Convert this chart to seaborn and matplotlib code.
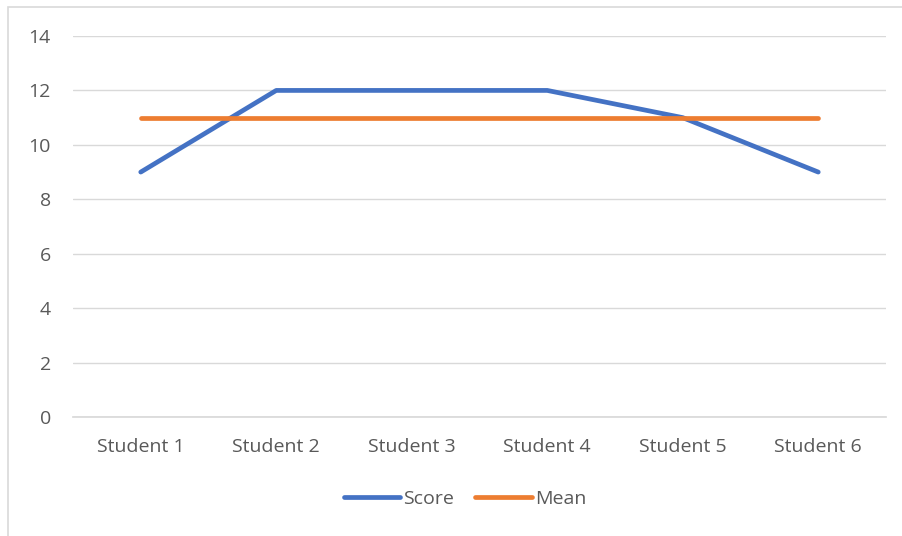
import matplotlib
matplotlib.use("Agg")
import matplotlib.pyplot as plt
import matplotlib.patches as mpatches
import seaborn as sns
import pandas as pd

students = ["Student 1", "Student 2", "Student 3", "Student 4", "Student 5", "Student 6"]
score = [9, 12, 12, 12, 11, 9]
mean = [11, 11, 11, 11, 11, 11]
y_ticks = [0, 2, 4, 6, 8, 10, 12, 14]

df = pd.DataFrame({
    "Student": students * 2,
    "Value": score + mean,
    "Series": ["Score"] * len(students) + ["Mean"] * len(students),
})

sns.set_theme(style="white")
plt.rcParams["font.family"] = ["Open Sans", "DejaVu Sans"]

W, H = 903, 536
FS = 14
fig = plt.figure(figsize=(W / 100, H / 100), dpi=100)
ax = fig.add_axes([73 / W, 1 - 417 / H, (886 - 73) / W, (417 - 36) / H])

# chart frame
fig.patches.append(mpatches.Rectangle((8 / W, -0.1), 1.2, 1 - 7 / H + 0.1,
                                      transform=fig.transFigure, fill=False,
                                      edgecolor="#D9D9D9", linewidth=1.2))

palette = {"Score": "#4472C4", "Mean": "#ED7D31"}
sns.lineplot(data=df, x="Student", y="Value", hue="Series", palette=palette,
             linewidth=3.4, ax=ax, legend=False, sort=False)
for line in ax.lines:
    line.set_solid_capstyle("round")
    line.set_solid_joinstyle("round")

ax.set_xlim(-0.5, len(students) - 0.5)
ax.set_ylim(0, 14)
ax.set_yticks(y_ticks)
ax.yaxis.grid(True, color="#D9D9D9", linewidth=1.0)
ax.set_axisbelow(True)
for s in ax.spines.values():
    s.set_visible(False)
ax.spines["bottom"].set_visible(True)
ax.spines["bottom"].set_color("#D9D9D9")
ax.set_xlabel("")
ax.set_ylabel("")
ax.tick_params(axis="both", length=0, labelsize=FS, labelcolor="#595959")
ax.tick_params(axis="x", pad=15)
ax.tick_params(axis="y", pad=16)

handles = [plt.Line2D([0], [0], color=palette[k], linewidth=3.4, solid_capstyle="round")
           for k in ["Score", "Mean"]]
leg = fig.legend(handles, ["Score", "Mean"], loc="center", bbox_to_anchor=(465 / W, 1 - 499 / H),
                 ncol=2, frameon=False, fontsize=FS, handlelength=2.9, handletextpad=0.15,
                 columnspacing=1.1)
for t in leg.get_texts():
    t.set_color("#595959")

fig.savefig("out.png", dpi=100)
